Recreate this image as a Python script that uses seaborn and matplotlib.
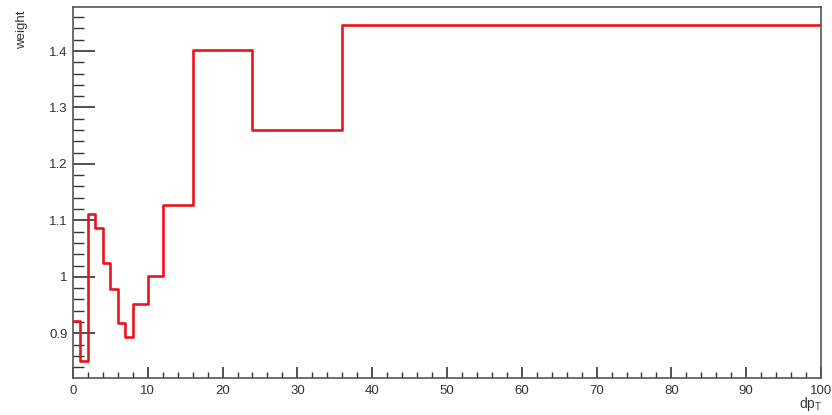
import numpy as np
import pandas as pd
import seaborn as sns
import matplotlib
matplotlib.use("Agg")
import matplotlib.pyplot as plt
from matplotlib.ticker import MultipleLocator

# Bin edges (dp_T) and weights per bin
bin_edges = [0, 1, 2, 3, 4, 5, 6, 7, 8, 10, 12, 16, 24, 36, 100]
weights = [0.921, 0.850, 1.112, 1.086, 1.024, 0.979, 0.919, 0.893,
           0.952, 1.002, 1.127, 1.401, 1.260, 1.446]
y_tick_values = [0.9, 1.0, 1.1, 1.2, 1.3, 1.4]
y_tick_labels = ["0.9", "1", "1.1", "1.2", "1.3", "1.4"]
x_tick_values = [0, 10, 20, 30, 40, 50, 60, 70, 80, 90, 100]

centers = [(a + b) / 2 for a, b in zip(bin_edges[:-1], bin_edges[1:])]
df = pd.DataFrame({"dpT": centers, "w": weights})

sns.set_style("white")
plt.rcParams['font.family'] = ['Liberation Sans', 'DejaVu Sans']

fig = plt.figure(figsize=(8.32, 4.15), dpi=100)
ax = fig.add_axes([0.0877, 0.0892, 0.8991, 0.8932])

sns.histplot(data=df, x="dpT", weights="w", bins=bin_edges, element="step",
             fill=False, color="#e8141c", linewidth=1.9, ax=ax)

ax.set_xlim(0, 100)
ax.set_ylim(0.8207, 1.4775)
ax.set_yticks(y_tick_values)
ax.set_yticklabels(y_tick_labels)
ax.set_xticks(x_tick_values)
ax.set_xticklabels([str(v) for v in x_tick_values])
ax.yaxis.set_minor_locator(MultipleLocator(0.02))
ax.xaxis.set_minor_locator(MultipleLocator(2))

ax.tick_params(axis='y', which='major', direction='in', length=16, width=1.2,
               color='#333333', labelsize=9.5, labelcolor='#333333', pad=4)
ax.tick_params(axis='y', which='minor', direction='in', length=8, width=1.0,
               color='#333333')
ax.tick_params(axis='x', which='major', direction='in', length=8, width=1.2,
               color='#333333', labelsize=9.5, labelcolor='#333333', pad=5)
ax.tick_params(axis='x', which='minor', direction='in', length=4, width=1.0,
               color='#333333')
ax.tick_params(left=True, bottom=True, which='both')

for s in ax.spines.values():
    s.set_color('#555555')
    s.set_linewidth(1.2)

ax.set_xlabel("")
ax.set_ylabel("")
fig.text(0.026, 0.975, "weight", rotation=90, ha='center', va='top',
         fontsize=9.5, color='#333333')
fig.text(0.988, 0.005, r"dp$_\mathregular{T}$", ha='right', va='bottom',
         fontsize=10, color='#333333')

fig.savefig("out.png", dpi=100)
